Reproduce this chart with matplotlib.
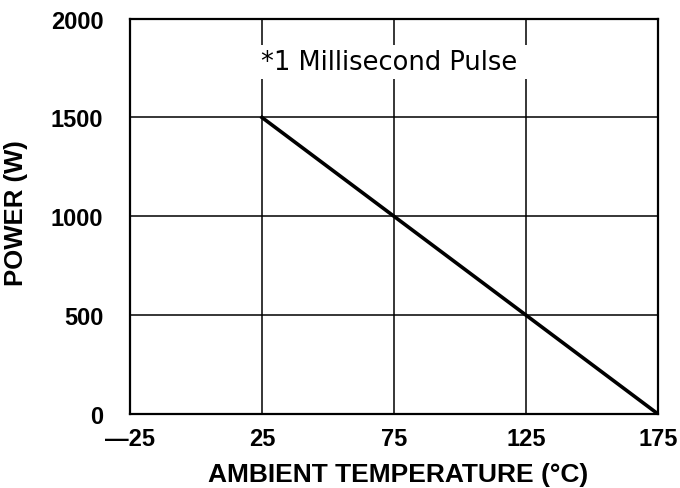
import matplotlib.pyplot as plt

# derating curve
temp = [25, 175]
power = [1500, 0]

x_ticks = [-25, 25, 75, 125, 175]
x_labels = ['\u201425', '25', '75', '125', '175']
y_ticks = [0, 500, 1000, 1500, 2000]

fig = plt.figure(figsize=(6.8, 4.89), dpi=100)
ax = fig.add_axes([0.191, 0.151, 0.777, 0.809])

ax.plot(temp, power, color='black', linewidth=2.6, zorder=3)

ax.set_xlim(-25, 175)
ax.set_ylim(0, 2000)
ax.set_xticks(x_ticks)
ax.set_xticklabels(x_labels)
ax.set_yticks(y_ticks)
ax.grid(True, color='black', linewidth=1.1, zorder=1)
ax.set_axisbelow(True)

for sp in ax.spines.values():
    sp.set_linewidth(1.6)

ax.tick_params(length=0)
ax.tick_params(axis='x', pad=9.5)
ax.tick_params(axis='y', pad=19)
for lab in ax.get_xticklabels() + ax.get_yticklabels():
    lab.set_fontfamily('Liberation Sans')
    lab.set_fontweight('bold')
    lab.set_fontsize(17)

ax.set_xlabel('AMBIENT TEMPERATURE (\u00b0C)', family='Liberation Sans',
              fontweight='bold', fontsize=19)
ax.set_ylabel('POWER (W)', family='Liberation Sans',
              fontweight='bold', fontsize=18.5)
ax.xaxis.set_label_coords(0.508, -0.122)
ax.yaxis.set_label_coords(-0.193, 0.51)

# note with white box breaking the grid lines
ax.text(73, 1780, '*1 Millisecond Pulse', family='DejaVu Sans', fontsize=18.5,
        ha='center', va='center', zorder=4,
        bbox=dict(boxstyle='square,pad=0.47', facecolor='white',
                  edgecolor='none', mutation_aspect=0.33))

fig.savefig('out.png', dpi=100)
